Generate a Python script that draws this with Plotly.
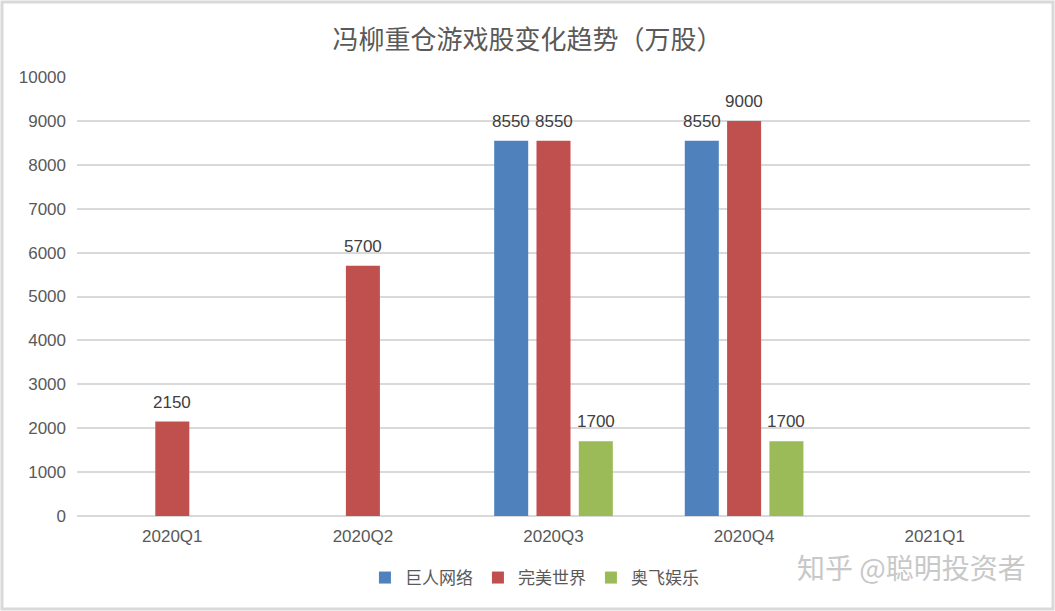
import plotly.graph_objects as go

quarters = ["2020Q1", "2020Q2", "2020Q3", "2020Q4", "2021Q1"]
giant = [None, None, 8550, 8550, None]
perfect = [2150, 5700, 8550, 9000, None]
alpha = [None, None, 1700, 1700, None]

W, H = 1055, 611
ml, mr, mt, mb = 77, 25, 77, 95
pw, ph = W - ml - mr, H - mt - mb
slot = 42.3  # px between bar centres within a group

series = [("巨人网络", giant, "#4F81BD"),
          ("完美世界", perfect, "#C0504D"),
          ("奥飞娱乐", alpha, "#9BBB59")]

fig = go.Figure()
for i, (name, vals, color) in enumerate(series):
    fig.add_trace(go.Bar(x=quarters, y=vals, name=name, marker_color=color,
                         marker_line_width=0))
    # value labels above bars
    for q, v in zip(quarters, vals):
        if v is None:
            continue
        fig.add_annotation(x=q, y=v, text=str(v), showarrow=False,
                           xshift=(i - 1) * slot, yanchor="bottom", yshift=8,
                           font=dict(size=17, color="#404040"))

fig.update_layout(
    width=W, height=H,
    margin=dict(l=ml, r=mr, t=mt, b=mb),
    paper_bgcolor="white", plot_bgcolor="white",
    font=dict(family="Liberation Sans, Noto Sans CJK SC", color="#595959"),
    title=dict(text="冯柳重仓游戏股变化趋势（万股）", x=0.5, xanchor="center",
               y=1 - 40 / H, yanchor="middle",
               font=dict(size=26, color="#595959", family="Noto Sans CJK SC")),
    barmode="group", bargap=0.334, bargroupgap=0.196,
    showlegend=True,
    legend=dict(orientation="h", x=0.48, xanchor="center", y=-(578 - 516) / ph,
                yanchor="middle", font=dict(size=17, color="#595959", family="Noto Sans CJK SC"),
                itemwidth=30, traceorder="normal"),
    yaxis=dict(range=[0, 10000], dtick=1000, tickformat="d", showgrid=True, gridcolor="#D9D9D9",
               gridwidth=1.5, zeroline=True, zerolinecolor="#D9D9D9", zerolinewidth=1.5,
               tickfont=dict(size=17, color="#595959"), ticks="", ticklen=0,
               ticklabelstandoff=10),
    xaxis=dict(showline=False, tickfont=dict(size=17, color="#595959"), ticks="",
               ticklabelstandoff=8),
)

# outer border
fig.add_shape(type="rect", xref="paper", yref="paper",
              x0=-(ml - 2) / pw, x1=(W - ml - 2) / pw,
              y0=-(mb - 2) / ph, y1=(H - mb - 2) / ph,
              line=dict(color="#D9D9D9", width=3), layer="below")

# watermark
fig.add_annotation(text="知乎 @聪明投资者", xref="paper", yref="paper",
                   x=(1028 - ml) / pw, xanchor="right", y=-(567 - 516) / ph, yanchor="middle",
                   showarrow=False, font=dict(size=28, color="#C8C8C8", family="Noto Sans CJK SC"))

fig.write_html("out.html", config={"displayModeBar": False},
               post_script="document.body.style.margin='0';")
